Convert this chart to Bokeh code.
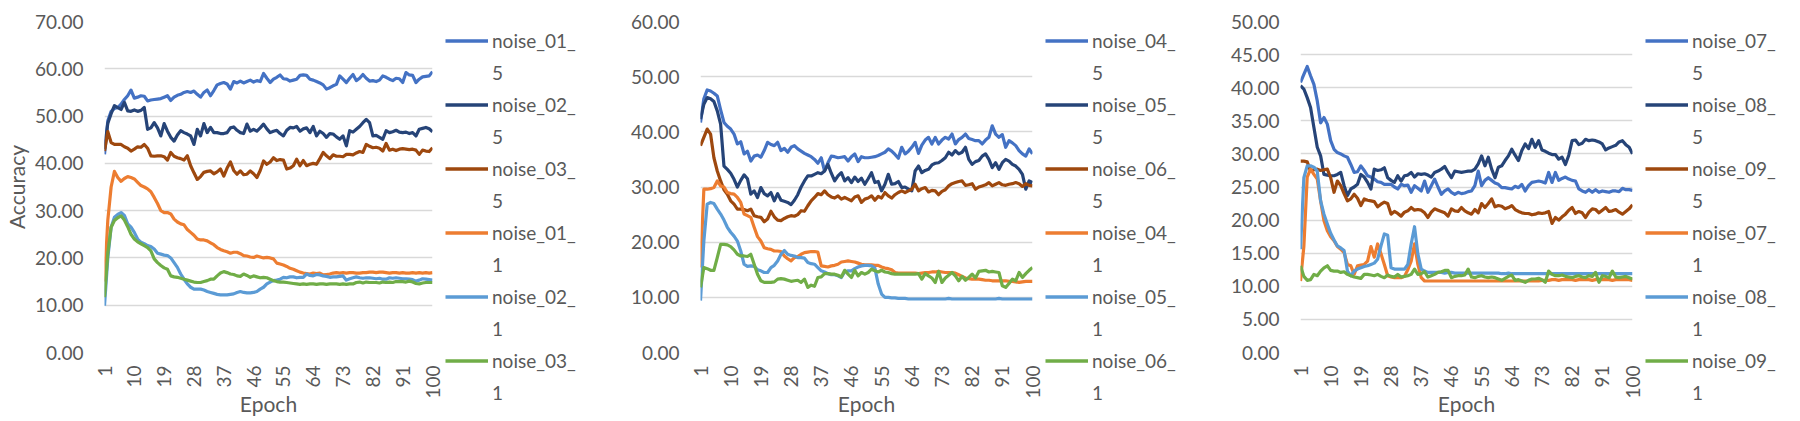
import math
from bokeh.plotting import figure
from bokeh.layouts import row
from bokeh.models import Range1d, FixedTicker, PrintfTickFormatter, Legend, LegendItem
from bokeh.embed import file_html
from bokeh.resources import INLINE

epochs = list(range(1, 101))
x_ticks = list(range(1, 101, 9))

# ---------------- chart 1 ----------------
noise_01_5 = [41.9, 49.0, 51.0, 51.6, 51.8, 52.5, 53.5, 54.3, 55.5, 53.8,
              54.0, 54.3, 54.2, 53.2, 53.4, 53.5, 53.6, 53.7, 54.0, 54.3,
              53.3, 54.0, 54.4, 54.6, 55.0, 55.2, 55.0, 55.3, 54.6, 54.0,
              55.0, 55.5, 54.3, 55.4, 56.6, 56.9, 57.1, 56.8, 55.7, 57.3,
              57.0, 57.4, 57.0, 57.3, 57.6, 57.2, 57.5, 57.3, 59.0, 58.0,
              57.1, 57.8, 58.2, 58.7, 57.9, 57.8, 57.4, 57.6, 57.8, 58.6,
              58.7, 58.6, 57.8, 57.6, 57.3, 57.0, 56.6, 55.7, 56.0, 56.4,
              56.7, 58.5, 57.8, 57.1, 58.0, 58.8, 57.5, 58.0, 58.8, 58.0,
              57.4, 57.5, 57.3, 57.6, 58.5, 58.2, 57.8, 57.5, 58.0, 57.9,
              57.1, 59.2, 58.7, 58.6, 57.1, 57.8, 58.3, 58.4, 58.5, 59.4]
noise_02_5 = [43.0, 48.5, 50.5, 52.2, 51.8, 51.4, 52.9, 51.1, 51.0, 51.3,
              51.0, 51.2, 51.8, 47.2, 47.5, 48.6, 47.5, 45.8, 48.4, 46.8,
              45.5, 44.7, 46.0, 46.9, 46.5, 46.2, 45.8, 44.0, 47.2, 45.8,
              48.4, 46.5, 47.6, 46.5, 46.5, 46.3, 46.3, 46.5, 47.5, 47.7,
              47.0, 46.5, 46.3, 48.3, 46.8, 47.2, 46.8, 47.5, 48.3, 47.3,
              46.5, 46.8, 47.0, 46.3, 45.8, 47.0, 47.6, 47.5, 47.8, 46.8,
              47.3, 47.5, 46.5, 47.8, 45.8, 46.8, 46.3, 45.5, 46.3, 46.2,
              45.6, 45.1, 45.8, 43.7, 46.9, 46.6, 47.2, 47.8, 48.6, 49.3,
              48.6, 45.8, 45.9, 45.5, 45.1, 46.9, 46.5, 46.7, 47.0, 46.6,
              46.5, 46.6, 46.3, 46.5, 45.8, 47.2, 47.4, 47.6, 47.3, 46.7]
noise_03_5 = [42.6, 46.7, 44.4, 44.0, 44.0, 44.0, 43.5, 43.2, 42.6, 43.0,
              43.5, 43.4, 44.0, 43.2, 41.6, 41.5, 41.6, 41.6, 41.4, 40.7,
              42.3, 41.5, 41.2, 41.0, 40.7, 41.6, 39.5, 38.0, 36.6, 37.2,
              38.1, 38.3, 38.4, 37.8, 38.2, 38.8, 37.3, 39.0, 40.3, 38.5,
              37.7, 38.4, 37.6, 37.7, 38.4, 37.8, 37.0, 38.5, 40.5, 39.8,
              40.3, 41.2, 40.6, 40.8, 40.7, 38.8, 39.0, 39.5, 40.9, 39.5,
              40.6, 39.5, 39.8, 40.0, 39.8, 41.0, 42.3, 41.6, 41.0, 41.8,
              41.5, 41.5, 41.4, 41.9, 41.9, 41.8, 42.2, 42.5, 42.3, 44.0,
              43.6, 43.3, 43.4, 43.2, 42.6, 44.2, 42.8, 43.0, 42.7, 43.0,
              43.1, 43.0, 42.9, 43.0, 42.8, 41.9, 42.8, 42.6, 42.5, 43.3]
noise_01_1 = [15.0, 28.0, 35.0, 38.3, 37.0, 36.2, 36.8, 37.2, 37.0, 36.7,
              36.0, 35.3, 35.0, 34.6, 34.0, 32.8, 31.5, 30.0, 29.6, 29.6,
              29.3, 28.2, 27.6, 27.2, 27.0, 26.0, 25.4, 24.8, 24.0, 23.8,
              23.8, 23.6, 23.2, 22.8, 22.2, 21.8, 21.5, 21.3, 21.0, 21.2,
              21.2, 20.9, 20.5, 20.4, 20.2, 20.1, 20.4, 20.2, 20.0, 20.1,
              20.0, 19.8, 18.9, 18.7, 18.5, 18.2, 17.8, 17.6, 17.3, 17.0,
              16.8, 16.7, 16.6, 16.8, 16.7, 16.8, 16.4, 16.5, 16.6, 16.8,
              16.9, 16.8, 16.9, 16.8, 16.9, 16.9, 16.8, 16.8, 16.9, 16.9,
              17.0, 17.0, 16.9, 17.0, 17.0, 16.9, 16.8, 16.9, 16.9, 16.8,
              16.9, 16.8, 16.8, 16.9, 16.8, 16.9, 16.8, 16.9, 16.8, 16.9]
noise_02_1 = [9.9, 20.0, 26.5, 28.6, 29.2, 29.6, 29.0, 27.2, 26.5, 25.4,
              24.0, 23.3, 23.0, 22.6, 22.4, 21.9, 21.0, 20.8, 20.6, 20.5,
              20.0, 19.0, 18.0, 16.6, 15.5, 14.5, 13.8, 13.4, 13.4, 13.4,
              13.2, 12.9, 12.7, 12.5, 12.3, 12.2, 12.2, 12.2, 12.3, 12.4,
              12.7, 12.9, 12.7, 12.6, 12.6, 12.7, 12.9, 13.4, 13.8, 14.5,
              14.9, 15.2, 15.3, 15.5, 15.9, 15.8, 16.0, 16.0, 15.8, 15.9,
              15.9, 16.6, 16.3, 16.2, 16.5, 16.4, 16.2, 16.1, 15.9, 16.0,
              16.0, 16.1, 16.2, 15.3, 15.6, 15.8, 16.0, 15.8, 15.7, 15.8,
              15.8, 15.7, 15.6, 15.7, 15.5, 15.5, 15.8, 15.7, 15.8, 15.7,
              15.6, 15.6, 15.5, 15.4, 15.1, 15.3, 15.6, 15.5, 15.4, 15.3]
noise_03_1 = [11.7, 21.0, 26.5, 27.9, 28.5, 28.9, 28.0, 26.6, 25.0, 24.0,
              23.4, 23.0, 22.6, 22.2, 21.5, 19.8, 19.0, 18.4, 17.9, 17.6,
              16.2, 16.0, 15.9, 15.7, 15.5, 15.3, 15.1, 14.9, 14.8, 14.8,
              15.0, 15.2, 15.5, 15.5, 16.2, 16.8, 17.1, 16.9, 16.6, 16.5,
              16.2, 16.1, 16.6, 16.3, 15.9, 16.2, 16.0, 15.8, 15.9, 15.8,
              15.5, 15.2, 15.0, 14.9, 14.9, 14.8, 14.7, 14.6, 14.5, 14.4,
              14.5, 14.4, 14.5, 14.5, 14.4, 14.5, 14.5, 14.4, 14.5, 14.5,
              14.5, 14.4, 14.5, 14.4, 14.5, 14.5, 14.8, 14.9, 14.7, 14.9,
              14.8, 14.8, 14.8, 14.7, 14.9, 14.8, 14.9, 14.8, 15.0, 15.0,
              15.0, 14.9, 15.1, 14.9, 14.6, 14.5, 14.7, 14.8, 14.8, 14.8]

# ---------------- chart 2 ----------------
noise_04_5 = [41.7, 46.0, 47.6, 47.4, 47.0, 46.5, 44.0, 41.7, 41.0, 40.5,
              39.6, 37.8, 38.2, 36.0, 36.5, 34.7, 35.6, 35.8, 35.4, 36.6,
              38.1, 37.7, 37.5, 38.1, 36.6, 37.0, 36.3, 37.2, 37.5, 36.9,
              36.5, 36.1, 35.8, 35.5, 35.0, 34.3, 35.3, 32.9, 34.4, 35.6,
              35.5, 35.3, 35.4, 35.5, 34.7, 35.5, 36.0, 34.6, 35.5, 35.3,
              35.3, 35.4, 35.5, 35.7, 36.0, 36.3, 36.9, 36.5, 35.9, 35.2,
              37.2, 36.0, 36.5, 37.2, 38.1, 36.1, 37.6, 38.5, 39.0, 37.8,
              39.0, 37.8, 38.5, 39.0, 38.7, 39.6, 37.8, 38.6, 39.0, 39.6,
              38.8, 38.6, 38.4, 38.4, 37.8, 38.5, 39.0, 41.1, 39.6, 39.0,
              39.5, 37.2, 38.4, 38.0, 37.5, 36.6, 36.0, 35.6, 36.9, 36.0]
noise_05_5 = [42.3, 45.0, 46.2, 46.0, 45.5, 43.8, 41.4, 33.8, 33.2, 32.5,
              31.4, 30.0, 31.2, 32.2, 31.5, 28.7, 29.3, 28.1, 29.9, 28.8,
              28.4, 29.0, 27.5, 28.8, 27.6, 27.4, 27.2, 26.8, 27.6, 28.6,
              30.0, 31.1, 32.0, 32.0, 32.3, 32.6, 32.4, 32.9, 34.1, 32.5,
              31.1, 32.0, 32.6, 31.1, 31.7, 30.8, 31.8, 31.0, 31.6, 30.5,
              31.5, 32.6, 30.8, 31.0, 29.3, 30.5, 32.3, 30.5, 30.6, 31.0,
              29.9, 30.0, 29.6, 29.3, 32.9, 33.8, 32.6, 33.0, 33.2, 34.0,
              34.3, 34.4, 34.8, 35.3, 36.3, 35.8, 36.6, 36.0, 36.3, 37.2,
              35.0, 34.1, 34.6, 34.8, 35.6, 36.0, 35.0, 33.5, 34.4, 33.2,
              34.4, 35.0, 34.7, 34.1, 33.8, 33.2, 32.3, 29.6, 31.1, 30.8]
noise_06_5 = [37.5, 39.0, 40.5, 39.6, 35.3, 32.9, 31.1, 29.5, 28.7, 27.5,
              26.9, 26.0, 26.0, 25.9, 25.7, 26.0, 24.8, 24.6, 24.5, 23.7,
              24.2, 25.6, 24.6, 24.0, 23.9, 24.3, 24.6, 24.8, 24.7, 25.0,
              25.7, 25.6, 26.6, 27.5, 28.1, 28.8, 28.6, 29.3, 28.6, 28.2,
              28.0, 28.4, 27.8, 28.1, 27.8, 27.5, 28.2, 28.4, 27.2, 27.8,
              28.0, 28.4, 27.6, 28.3, 28.0, 29.0, 28.4, 28.0, 28.6, 29.0,
              29.3, 29.0, 29.3, 29.6, 30.5, 29.3, 29.7, 29.9, 29.1, 29.4,
              29.3, 28.6, 29.2, 29.5, 30.2, 30.6, 30.8, 31.0, 31.1, 30.3,
              30.4, 30.6, 29.6, 30.0, 30.2, 30.4, 30.8, 30.2, 30.5, 30.8,
              30.4, 30.3, 30.5, 30.6, 30.8, 30.6, 30.1, 30.6, 30.3, 30.2]
noise_04_1 = [15.4, 29.6, 29.6, 29.7, 29.9, 31.1, 30.2, 30.0, 29.0, 28.8,
              28.7, 28.1, 27.2, 25.1, 24.8, 24.5, 22.7, 21.0, 20.2, 19.0,
              18.8, 18.7, 18.4, 18.4, 18.3, 17.5, 17.0, 16.6, 17.2, 17.4,
              17.8, 18.1, 18.2, 18.3, 18.3, 18.2, 15.7, 15.6, 15.5, 15.7,
              15.8, 16.0, 16.4, 16.5, 16.6, 16.5, 16.4, 16.2, 16.0, 15.9,
              15.9, 15.9, 15.8, 15.8, 15.5, 15.3, 15.2, 15.0, 14.5, 14.4,
              14.4, 14.4, 14.4, 14.4, 14.4, 14.3, 14.4, 14.5, 14.5, 14.6,
              14.6, 14.7, 14.6, 14.5, 14.5, 14.5, 14.4, 14.1, 13.8, 13.5,
              13.4, 13.3, 13.3, 13.3, 13.2, 13.1, 13.1, 13.0, 13.0, 13.0,
              13.0, 13.0, 12.9, 12.9, 12.8, 12.7, 12.8, 12.9, 12.9, 12.9]
noise_05_1 = [9.4, 20.2, 26.9, 27.2, 27.0, 26.0, 25.1, 24.0, 22.7, 21.8,
              21.1, 20.2, 18.4, 16.0, 15.6, 15.7, 15.6, 15.0, 14.8, 14.5,
              14.5, 15.4, 15.8, 16.6, 17.8, 18.5, 17.8, 17.6, 17.5, 17.2,
              17.2, 17.1, 16.3, 16.1, 16.0, 15.4, 14.8, 14.6, 14.3, 14.1,
              14.1, 13.9, 13.6, 14.6, 14.8, 14.8, 15.2, 15.5, 15.7, 15.8,
              15.8, 15.7, 15.3, 12.4, 10.6, 10.0, 10.0, 9.9, 9.9, 9.8,
              9.8, 9.8, 9.7, 9.7, 9.7, 9.7, 9.7, 9.7, 9.7, 9.7,
              9.7, 9.7, 9.7, 9.7, 9.8, 9.7, 9.7, 9.7, 9.7, 9.7,
              9.7, 9.7, 9.7, 9.7, 9.7, 9.7, 9.7, 9.7, 9.7, 9.8,
              9.7, 9.7, 9.7, 9.7, 9.7, 9.7, 9.7, 9.7, 9.7, 9.7]
noise_06_1 = [11.8, 15.4, 15.2, 14.9, 14.9, 17.2, 19.6, 19.6, 19.5, 19.2,
              18.6, 17.8, 17.5, 17.5, 17.4, 17.8, 16.0, 14.2, 13.0, 12.7,
              12.7, 12.7, 12.8, 13.3, 13.4, 13.3, 13.1, 12.9, 13.0, 13.1,
              12.7, 13.3, 11.8, 12.2, 12.0, 13.6, 13.7, 14.3, 14.3, 14.2,
              14.2, 14.0, 13.7, 14.9, 14.2, 13.6, 14.9, 13.9, 14.5, 14.2,
              14.5, 15.1, 14.8, 14.6, 14.9, 14.6, 14.5, 14.3, 14.2, 14.2,
              14.2, 14.2, 14.2, 14.2, 14.2, 14.3, 13.3, 14.3, 13.9, 13.5,
              12.7, 14.7, 12.7, 13.5, 14.0, 14.5, 13.9, 13.0, 13.8, 13.1,
              13.6, 14.2, 13.5, 14.7, 14.8, 14.9, 14.6, 14.7, 14.6, 14.5,
              12.1, 11.8, 12.5, 13.3, 13.0, 14.5, 13.6, 14.3, 14.9, 15.4]

# ---------------- chart 3 ----------------
noise_07_5 = [40.8, 42.0, 43.2, 41.8, 40.5, 38.0, 34.7, 35.5, 34.5, 32.0,
              30.7, 30.2, 30.0, 29.7, 29.5, 28.4, 27.2, 27.3, 28.2, 27.5,
              26.7, 26.5, 26.2, 25.8, 25.7, 25.4, 25.4, 25.4, 25.0, 24.7,
              25.4, 25.2, 25.3, 24.2, 25.2, 24.8, 24.4, 25.9, 24.2, 25.2,
              26.2, 25.0, 23.9, 24.4, 24.7, 24.2, 23.9, 24.2, 24.0, 24.1,
              24.3, 24.4, 25.2, 27.4, 25.2, 26.0, 26.4, 26.0, 25.6, 25.4,
              24.9, 24.9, 24.8, 24.7, 25.1, 24.9, 25.4, 24.4, 25.2, 25.7,
              25.8, 25.9, 25.8, 25.6, 27.2, 25.7, 27.2, 26.0, 26.3, 26.5,
              26.2, 26.0, 25.9, 24.7, 24.4, 24.2, 24.6, 24.2, 24.6, 24.2,
              24.4, 24.3, 24.2, 24.4, 24.4, 24.3, 24.8, 24.6, 24.6, 24.5]
noise_08_5 = [40.3, 39.8, 38.5, 37.0, 34.0, 31.0, 29.7, 26.9, 26.8, 26.7,
              26.7, 26.9, 27.2, 25.2, 23.7, 24.7, 25.0, 25.4, 26.9, 26.5,
              25.7, 24.7, 27.7, 27.5, 27.6, 27.9, 26.4, 26.0, 25.7, 26.7,
              25.9, 26.7, 26.8, 27.2, 26.5, 27.0, 26.9, 27.0, 26.8, 26.5,
              27.2, 27.4, 27.7, 28.1, 27.2, 26.4, 27.4, 27.3, 27.2, 27.3,
              27.4, 27.4, 27.7, 28.5, 29.7, 28.2, 29.5, 27.7, 26.4, 28.0,
              28.2, 29.0, 29.7, 30.7, 29.8, 29.0, 30.5, 31.5, 30.8, 32.2,
              31.0, 32.0, 30.6, 30.4, 30.1, 29.9, 29.9, 29.2, 29.5, 28.4,
              29.8, 32.0, 32.1, 31.4, 31.6, 32.2, 32.0, 32.1, 32.0, 31.8,
              31.5, 30.6, 30.9, 31.1, 31.3, 31.8, 32.0, 31.4, 31.0, 30.0]
noise_09_5 = [28.9, 28.9, 28.8, 27.4, 27.6, 27.7, 27.5, 27.6, 27.7, 26.4,
              24.2, 25.9, 25.2, 24.0, 22.9, 23.2, 23.9, 23.3, 22.2, 23.2,
              23.0, 22.9, 22.8, 22.0, 22.4, 22.7, 22.5, 20.9, 21.3, 21.0,
              20.6, 21.2, 21.4, 21.9, 21.5, 21.6, 21.5, 21.1, 20.4, 21.2,
              21.7, 21.5, 21.3, 21.1, 20.6, 21.7, 21.4, 21.3, 21.9, 21.4,
              21.1, 20.9, 21.6, 21.1, 22.5, 21.9, 22.5, 23.2, 22.0, 22.2,
              22.1, 21.7, 21.9, 22.2, 21.6, 21.3, 21.1, 21.0, 21.0, 20.8,
              20.9, 21.1, 21.0, 21.1, 21.3, 19.5, 20.4, 20.0, 20.5, 20.9,
              21.5, 21.9, 21.0, 21.3, 21.1, 20.4, 21.2, 21.7, 21.6, 21.1,
              21.5, 21.9, 21.3, 21.4, 21.6, 21.2, 20.9, 21.3, 21.7, 22.3]
noise_07_1 = [10.8, 16.0, 26.5, 27.7, 26.9, 26.2, 22.9, 19.9, 18.4, 17.5,
              16.9, 16.0, 15.6, 15.1, 13.3, 13.1, 11.8, 13.1, 13.2, 13.3,
              13.8, 16.0, 14.4, 16.4, 14.9, 13.3, 11.6, 11.4, 11.3, 11.3,
              11.3, 11.5, 12.5, 13.8, 16.4, 13.3, 11.3, 10.8, 10.8, 10.8,
              10.8, 10.8, 10.8, 10.8, 10.8, 10.8, 10.8, 10.8, 10.8, 10.8,
              10.8, 10.8, 10.8, 10.8, 10.8, 10.8, 10.8, 10.8, 10.8, 10.8,
              10.8, 10.8, 10.8, 10.8, 10.8, 10.8, 10.8, 10.8, 10.8, 10.8,
              10.8, 10.8, 10.9, 10.9, 10.9, 11.0, 11.0, 10.9, 11.0, 11.0,
              11.0, 11.0, 10.9, 11.0, 11.0, 11.0, 11.0, 10.9, 11.0, 11.0,
              11.0, 11.0, 11.0, 10.9, 11.0, 11.0, 11.0, 11.0, 11.0, 10.9]
noise_08_1 = [15.6, 26.4, 28.2, 28.2, 28.0, 27.4, 22.9, 20.9, 19.4, 18.0,
              17.0, 16.1, 15.8, 15.4, 12.3, 11.6, 12.3, 12.6, 12.8, 13.0,
              13.1, 13.3, 13.5, 14.1, 16.1, 17.9, 17.7, 12.8, 12.6, 12.6,
              12.6, 12.6, 13.3, 16.4, 19.0, 14.9, 12.6, 12.3, 12.1, 12.1,
              12.1, 12.1, 12.1, 12.0, 12.1, 12.1, 12.0, 12.0, 12.0, 12.0,
              12.0, 12.0, 12.0, 12.0, 12.0, 12.0, 12.0, 12.0, 12.0, 12.0,
              11.9, 11.9, 12.0, 11.9, 11.9, 11.9, 11.9, 11.9, 11.9, 11.9,
              11.9, 11.9, 11.9, 11.9, 11.9, 11.9, 11.9, 11.9, 11.9, 11.9,
              11.9, 11.9, 11.9, 11.9, 11.9, 11.9, 11.9, 11.9, 11.9, 11.9,
              11.9, 11.9, 11.9, 11.9, 11.9, 11.9, 11.9, 11.9, 11.9, 11.9]
noise_09_1 = [13.1, 11.5, 10.9, 11.0, 11.8, 11.6, 12.3, 12.8, 13.1, 12.4,
              12.3, 12.3, 12.1, 12.2, 11.8, 11.6, 11.4, 11.3, 11.2, 11.8,
              11.8, 11.7, 11.6, 11.8, 11.5, 11.3, 11.7, 11.5, 11.4, 11.8,
              11.4, 11.5, 11.6, 11.8, 12.6, 11.8, 11.9, 12.2, 11.4, 11.6,
              11.8, 12.1, 12.2, 12.4, 12.4, 11.3, 11.5, 11.6, 11.6, 11.7,
              12.6, 11.4, 11.3, 11.5, 11.6, 11.4, 11.3, 11.4, 11.3, 11.1,
              10.9, 11.2, 11.5, 11.7, 10.9, 11.0, 10.8, 10.6, 10.9, 11.1,
              11.1, 11.2, 11.0, 10.6, 12.3, 11.8, 11.6, 11.6, 11.7, 11.5,
              11.4, 11.3, 11.5, 11.6, 11.4, 11.3, 11.6, 11.5, 12.1, 10.6,
              11.6, 11.5, 11.3, 12.3, 11.4, 11.3, 11.4, 11.5, 11.3, 11.1]

colors = ["#4472C4", "#264478", "#9E480E", "#ED7D31", "#5B9BD5", "#70AD47"]

chart1_names = ["noise_01_5", "noise_02_5", "noise_03_5", "noise_01_1", "noise_02_1", "noise_03_1"]
chart1_data = [noise_01_5, noise_02_5, noise_03_5, noise_01_1, noise_02_1, noise_03_1]
chart2_names = ["noise_04_5", "noise_05_5", "noise_06_5", "noise_04_1", "noise_05_1", "noise_06_1"]
chart2_data = [noise_04_5, noise_05_5, noise_06_5, noise_04_1, noise_05_1, noise_06_1]
chart3_names = ["noise_07_5", "noise_08_5", "noise_09_5", "noise_07_1", "noise_08_1", "noise_09_1"]
chart3_data = [noise_07_5, noise_08_5, noise_09_5, noise_07_1, noise_08_1, noise_09_1]

TXT = "#595959"
FONT = "Lato"
FIG_H = 421
FRAME_W = 332
FRAME_H = 331
TOP = 21
LEFT = 100
RIGHT_PAD = 13
PANEL_W = 600
ROW_H = 23
ROW_GAP = 9
FIRST_ROW_Y = 40
LINE_W = 3.2


def make_chart(data, ymax, ystep, ylabel=None):
    width = LEFT + FRAME_W + RIGHT_PAD
    p = figure(width=width, height=FIG_H, output_backend="svg", toolbar_location=None,
               x_range=Range1d(1, 100), y_range=Range1d(0, ymax),
               min_border_left=LEFT, min_border_right=RIGHT_PAD,
               min_border_top=TOP, min_border_bottom=FIG_H - TOP - FRAME_H)
    p.outline_line_color = None
    p.background_fill_color = "white"
    p.border_fill_color = "white"
    p.xgrid.visible = False
    p.ygrid.grid_line_color = "#D9D9D9"
    p.ygrid.grid_line_width = 1.5

    ya = p.yaxis[0]
    ya.ticker = FixedTicker(ticks=list(range(0, ymax + 1, ystep)))
    ya.formatter = PrintfTickFormatter(format="%.2f")
    ya.axis_line_color = None
    ya.major_tick_line_color = None
    ya.minor_tick_line_color = None
    ya.major_tick_out = 0
    ya.major_tick_in = 0
    ya.major_label_standoff = 21
    ya.major_label_text_font = FONT
    ya.major_label_text_font_size = "19px"
    ya.major_label_text_color = TXT
    if ylabel:
        ya.axis_label = ylabel
        ya.axis_label_text_font = FONT
        ya.axis_label_text_font_size = "21px"
        ya.axis_label_text_font_style = "normal"
        ya.axis_label_text_color = TXT
        ya.axis_label_standoff = 3

    xa = p.xaxis[0]
    xa.ticker = FixedTicker(ticks=x_ticks)
    xa.axis_line_color = None
    xa.major_tick_line_color = None
    xa.minor_tick_line_color = None
    xa.major_tick_out = 0
    xa.major_tick_in = 0
    xa.major_label_orientation = math.pi / 2
    xa.major_label_standoff = 13
    xa.major_label_text_font = FONT
    xa.major_label_text_font_size = "19px"
    xa.major_label_text_color = TXT
    xa.axis_label = "Epoch"
    xa.axis_label_text_font = FONT
    xa.axis_label_text_font_size = "21px"
    xa.axis_label_text_font_style = "normal"
    xa.axis_label_text_color = TXT
    xa.axis_label_standoff = -11

    for vals, col in zip(data, colors):
        p.line(epochs, vals, line_color=col, line_width=LINE_W, line_join="round")
    return p


def make_legend(names, data, width):
    # legend panel: the series are plotted outside the visible x range,
    # so only their legend entries show
    lf = figure(width=width, height=FIG_H, output_backend="svg", toolbar_location=None,
                x_range=Range1d(-2, -1), y_range=Range1d(0, 1),
                x_axis_location=None, y_axis_location=None, min_border=0)
    lf.outline_line_color = None
    lf.grid.visible = False
    lf.border_fill_color = "white"
    lf.background_fill_color = "white"

    # let this panel's frame span the full height (not aligned to the charts)
    if "frame_align" in lf.properties():
        lf.frame_align = False
        frame_bottom = FIG_H
    else:
        frame_bottom = TOP + FRAME_H

    items = []
    for name, vals, col in zip(names, data, colors):
        r = lf.line(epochs, vals, line_color=col, line_width=3.5)
        blank = lf.line(epochs, vals, line_color=col, line_alpha=0, line_width=3)
        items.append(LegendItem(label=name[:-1], renderers=[r]))
        items.append(LegendItem(label=name[-1], renderers=[blank]))
    n = len(items)
    legend_h = n * ROW_H + (n - 1) * ROW_GAP
    top = FIRST_ROW_Y - ROW_H / 2
    legend = Legend(items=items,
                    location=(0, frame_bottom - top - legend_h),
                    orientation="vertical", margin=0, padding=0, spacing=ROW_GAP,
                    glyph_width=43, glyph_height=ROW_H, label_height=ROW_H,
                    label_standoff=4, border_line_color=None, background_fill_alpha=0,
                    label_text_font=FONT, label_text_font_size="19px",
                    label_text_color=TXT)
    lf.add_layout(legend, "center")
    return lf


chart_w = LEFT + FRAME_W + RIGHT_PAD
p1 = make_chart(chart1_data, 70, 10, ylabel="Accuracy")
l1 = make_legend(chart1_names, chart1_data, PANEL_W - chart_w)
p2 = make_chart(chart2_data, 60, 10)
l2 = make_legend(chart2_names, chart2_data, PANEL_W - chart_w)
p3 = make_chart(chart3_data, 50, 5)
l3 = make_legend(chart3_names, chart3_data, PANEL_W - chart_w)

layout = row(p1, l1, p2, l2, p3, l3)
open("out.html", "w").write(file_html(layout, INLINE))
